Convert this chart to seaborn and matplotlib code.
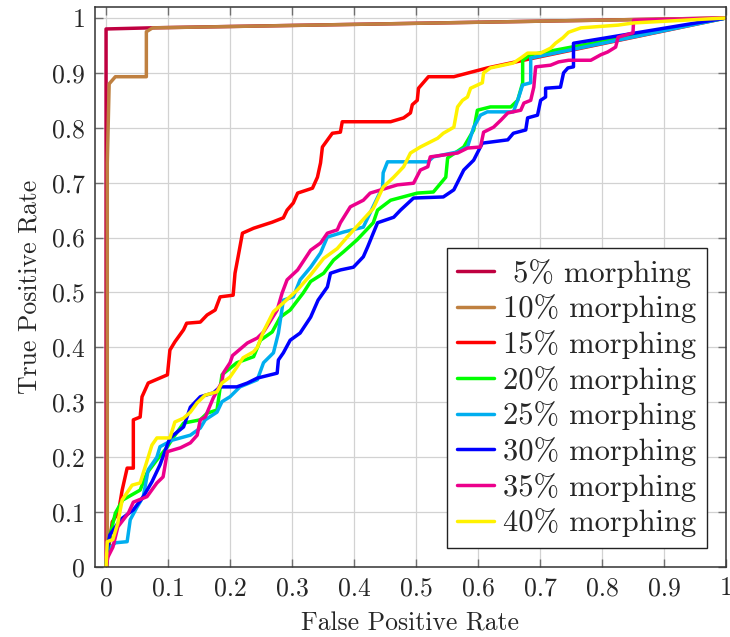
import seaborn as sns
import pandas
import matplotlib
import matplotlib.pyplot as plt

sns.set_style("ticks")
matplotlib.rcParams["font.family"] = ["cmr10", "DejaVu Serif"]
matplotlib.rcParams["mathtext.fontset"] = "cm"
matplotlib.rcParams["axes.formatter.use_mathtext"] = True

labels = [" 5% morphing", "10% morphing", "15% morphing", "20% morphing",
          "25% morphing", "30% morphing", "35% morphing", "40% morphing"]
colors = ["#BF0040", "#BF8040", "#FF0000", "#00FF00",
          "#00AEEF", "#0000FF", "#EC008C", "#FFF200"]

fpr_05 = [0, 0, 0.07, 1]
tpr_05 = [0, 0.98, 0.982, 1]

fpr_10 = [0, 0.002, 0.002, 0.005, 0.015, 0.065, 0.065, 0.075, 1]
tpr_10 = [0, 0, 0.736, 0.88, 0.893, 0.893, 0.975, 0.982, 1]

fpr_15 = [0, 0.005, 0.01, 0.02, 0.026, 0.034, 0.044, 0.044, 0.055, 0.058, 0.068, 0.099,
          0.103, 0.111, 0.125, 0.13, 0.152, 0.163, 0.176, 0.184, 0.205, 0.208, 0.213,
          0.22, 0.238, 0.268, 0.286, 0.292, 0.302, 0.309, 0.333, 0.341, 0.346, 0.349,
          0.365, 0.378, 0.381, 0.459, 0.48, 0.491, 0.494, 0.502, 0.504, 0.52, 0.561,
          0.615, 0.69, 1]
tpr_15 = [0, 0.04, 0.082, 0.1, 0.14, 0.18, 0.18, 0.268, 0.273, 0.31, 0.335, 0.35,
          0.395, 0.41, 0.432, 0.444, 0.446, 0.459, 0.468, 0.492, 0.495, 0.535, 0.565,
          0.608, 0.617, 0.628, 0.636, 0.65, 0.663, 0.681, 0.69, 0.71, 0.736, 0.765,
          0.79, 0.792, 0.811, 0.811, 0.818, 0.827, 0.842, 0.85, 0.872, 0.893, 0.893,
          0.909, 0.927, 1]

fpr_20 = [0, 0.002, 0.006, 0.015, 0.027, 0.055, 0.066, 0.082, 0.099, 0.108, 0.125,
          0.152, 0.163, 0.179, 0.187, 0.2, 0.211, 0.238, 0.249, 0.268, 0.281, 0.297,
          0.318, 0.33, 0.351, 0.367, 0.383, 0.405, 0.431, 0.438, 0.459, 0.502, 0.528,
          0.548, 0.551, 0.577, 0.593, 0.599, 0.62, 0.653, 0.664, 0.672, 0.672, 0.685, 1]
tpr_20 = [0, 0.03, 0.055, 0.098, 0.122, 0.14, 0.171, 0.195, 0.219, 0.235, 0.262,
          0.268, 0.28, 0.286, 0.35, 0.362, 0.372, 0.383, 0.413, 0.428, 0.455, 0.468,
          0.499, 0.52, 0.535, 0.559, 0.574, 0.596, 0.627, 0.65, 0.668, 0.681, 0.683,
          0.71, 0.745, 0.765, 0.796, 0.832, 0.838, 0.838, 0.85, 0.882, 0.923, 0.933, 1]

fpr_25 = [0, 0.003, 0.015, 0.034, 0.039, 0.05, 0.06, 0.068, 0.082, 0.087, 0.107,
          0.136, 0.152, 0.16, 0.179, 0.187, 0.2, 0.216, 0.244, 0.254, 0.27, 0.278,
          0.286, 0.302, 0.313, 0.33, 0.346, 0.357, 0.383, 0.415, 0.426, 0.446, 0.447,
          0.454, 0.519, 0.528, 0.567, 0.583, 0.593, 0.604, 0.615, 0.657, 0.664, 0.672,
          0.685, 0.685, 1]
tpr_25 = [0, 0.031, 0.044, 0.046, 0.086, 0.109, 0.128, 0.177, 0.2, 0.219, 0.231,
          0.24, 0.253, 0.268, 0.282, 0.301, 0.31, 0.328, 0.341, 0.372, 0.39, 0.426,
          0.486, 0.492, 0.523, 0.546, 0.572, 0.601, 0.61, 0.619, 0.645, 0.692, 0.718,
          0.738, 0.738, 0.747, 0.756, 0.765, 0.801, 0.823, 0.829, 0.829, 0.85, 0.878,
          0.882, 0.927, 1]

fpr_30 = [0, 0.002, 0.006, 0.023, 0.044, 0.06, 0.074, 0.087, 0.103, 0.125, 0.136,
          0.152, 0.173, 0.184, 0.211, 0.228, 0.244, 0.276, 0.278, 0.286, 0.297, 0.313,
          0.33, 0.342, 0.357, 0.362, 0.378, 0.399, 0.415, 0.422, 0.431, 0.438, 0.464,
          0.475, 0.496, 0.544, 0.561, 0.577, 0.593, 0.607, 0.648, 0.657, 0.677, 0.68,
          0.696, 0.701, 0.709, 0.709, 0.733, 0.738, 0.745, 0.754, 0.754, 1]
tpr_30 = [0, 0.031, 0.058, 0.086, 0.104, 0.128, 0.155, 0.186, 0.235, 0.255, 0.291,
          0.31, 0.317, 0.328, 0.328, 0.335, 0.344, 0.353, 0.377, 0.39, 0.413, 0.426,
          0.455, 0.486, 0.51, 0.535, 0.541, 0.546, 0.565, 0.583, 0.608, 0.627, 0.637,
          0.65, 0.672, 0.674, 0.687, 0.723, 0.741, 0.772, 0.778, 0.79, 0.796, 0.818,
          0.823, 0.85, 0.856, 0.872, 0.874, 0.9, 0.909, 0.911, 0.954, 1]

fpr_35 = [0, 0.003, 0.011, 0.019, 0.036, 0.044, 0.066, 0.082, 0.092, 0.099, 0.12,
          0.136, 0.147, 0.152, 0.16, 0.173, 0.187, 0.189, 0.2, 0.204, 0.228, 0.244,
          0.254, 0.276, 0.284, 0.292, 0.309, 0.33, 0.346, 0.357, 0.373, 0.378, 0.394,
          0.415, 0.426, 0.47, 0.496, 0.507, 0.519, 0.523, 0.567, 0.583, 0.604, 0.609,
          0.625, 0.637, 0.648, 0.669, 0.674, 0.685, 0.69, 0.693, 0.717, 0.73, 0.746,
          0.782, 0.798, 0.809, 0.822, 0.826, 0.85, 0.851, 1]
tpr_35 = [0, 0.018, 0.036, 0.073, 0.098, 0.118, 0.128, 0.153, 0.164, 0.21, 0.217,
          0.226, 0.24, 0.268, 0.273, 0.308, 0.337, 0.353, 0.372, 0.385, 0.408, 0.417,
          0.428, 0.468, 0.499, 0.523, 0.541, 0.577, 0.59, 0.608, 0.614, 0.627, 0.656,
          0.668, 0.681, 0.696, 0.699, 0.723, 0.729, 0.747, 0.754, 0.763, 0.765, 0.792,
          0.801, 0.814, 0.827, 0.832, 0.845, 0.85, 0.874, 0.911, 0.914, 0.92, 0.923,
          0.923, 0.933, 0.938, 0.947, 0.965, 0.973, 0.996, 1]

fpr_40 = [0, 0.002, 0.011, 0.019, 0.026, 0.042, 0.055, 0.063, 0.074, 0.082, 0.103,
          0.111, 0.125, 0.136, 0.147, 0.16, 0.179, 0.187, 0.2, 0.211, 0.221, 0.238,
          0.244, 0.254, 0.27, 0.286, 0.309, 0.33, 0.351, 0.373, 0.389, 0.41, 0.431,
          0.447, 0.464, 0.48, 0.491, 0.507, 0.535, 0.544, 0.561, 0.567, 0.575, 0.583,
          0.588, 0.607, 0.609, 0.62, 0.657, 0.669, 0.68, 0.701, 0.717, 0.725, 0.737,
          0.746, 0.766, 0.826, 0.851, 1]
tpr_40 = [0, 0.046, 0.05, 0.08, 0.122, 0.149, 0.153, 0.182, 0.222, 0.235, 0.235,
          0.264, 0.271, 0.282, 0.299, 0.313, 0.319, 0.335, 0.346, 0.364, 0.381, 0.392,
          0.4, 0.429, 0.465, 0.481, 0.505, 0.532, 0.562, 0.58, 0.601, 0.627, 0.653,
          0.692, 0.71, 0.729, 0.754, 0.765, 0.781, 0.79, 0.801, 0.838, 0.85, 0.856,
          0.872, 0.882, 0.9, 0.909, 0.918, 0.927, 0.936, 0.936, 0.945, 0.954, 0.964,
          0.974, 0.982, 0.987, 0.991, 1]

curves = [(fpr_05, tpr_05), (fpr_10, tpr_10), (fpr_15, tpr_15), (fpr_20, tpr_20),
          (fpr_25, tpr_25), (fpr_30, tpr_30), (fpr_35, tpr_35), (fpr_40, tpr_40)]

frames = []
for name, (fpr, tpr) in zip(labels, curves):
    frames.append(pandas.DataFrame({"fpr": fpr, "tpr": tpr, "series": name}))
data = pandas.concat(frames, ignore_index=True)

fig, ax = plt.subplots()
fig.set_size_inches(7.3, 6.37)
fig.subplots_adjust(left=0.130, right=0.9945, top=0.989, bottom=0.110)

sns.lineplot(
    ax=ax,
    data=data,
    x="fpr",
    y="tpr",
    hue="series",
    hue_order=labels,
    palette=colors,
    sort=False,
    estimator=None,
    linewidth=2.5,
)

ax.set_xlim(-0.018, 1.0)
ax.set_ylim(0, 1.02)
ticks = [0, 0.1, 0.2, 0.3, 0.4, 0.5, 0.6, 0.7, 0.8, 0.9, 1]
ticklabels = ["0", "0.1", "0.2", "0.3", "0.4", "0.5", "0.6", "0.7", "0.8", "0.9", "1"]
ax.set_xticks(ticks)
ax.set_xticklabels(ticklabels)
ax.set_yticks(ticks)
ax.set_yticklabels(ticklabels)
ax.grid(True, color="#d2d2d2", linewidth=0.9)
ax.set_axisbelow(True)
ax.tick_params(direction="in", length=6, width=1, color="#707070",
               top=True, right=True, labelsize=18.5, pad=7)
for s in ax.spines.values():
    s.set_color("#333333")
    s.set_linewidth(1.1)

ax.set_xlabel("False Positive Rate", fontsize=18.5, labelpad=8)
ax.set_ylabel("True Positive Rate", fontsize=18.5, labelpad=8)

leg = ax.legend(loc="lower right", bbox_to_anchor=(0.970, 0.034), borderaxespad=0,
                fontsize=22, frameon=True, fancybox=False, framealpha=1,
                edgecolor="#222222", handlelength=1.2, handletextpad=0.3,
                labelspacing=0.22, borderpad=0.35)
leg.get_frame().set_linewidth(1.0)

fig.savefig("out.png", dpi=100)
print("Output: out.png")
